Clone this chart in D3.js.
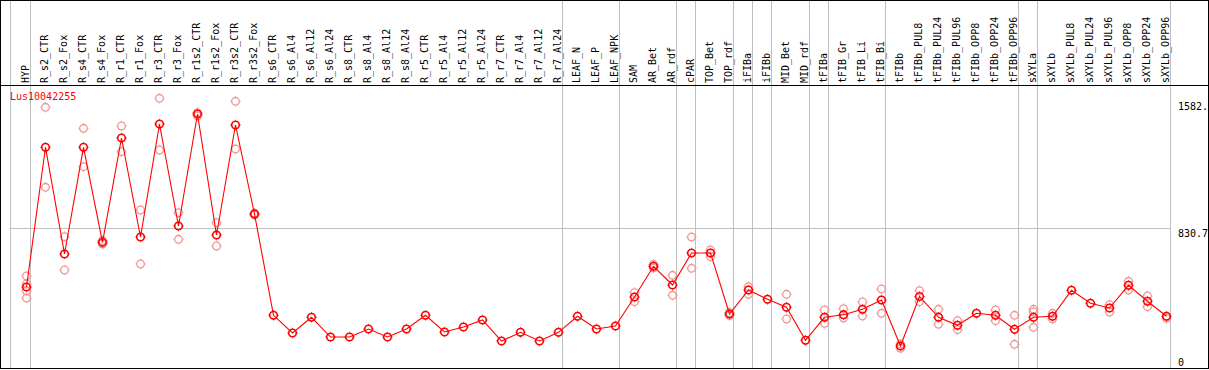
<!DOCTYPE html>
<html>
<head>
<meta charset="utf-8">
<script src="https://cdn.jsdelivr.net/npm/d3@7"></script>
<style>
  html, body { margin: 0; padding: 0; background: #ffffff; }
  svg { display: block; }
  text { font-family: "DejaVu Sans Mono", "Liberation Mono", monospace; font-size: 10px; }
</style>
</head>
<body>
<svg id="chart" width="1209" height="370"></svg>
<script>
const categories = [
  "HYP", "R_s2_CTR", "R_s2_Fox", "R_s4_CTR", "R_s4_Fox", "R_r1_CTR", "R_r1_Fox",
  "R_r3_CTR", "R_r3_Fox", "R_r1s2_CTR", "R_r1s2_Fox", "R_r3s2_CTR", "R_r3s2_Fox",
  "R_s6_CTR", "R_s6_Al4", "R_s6_Al12", "R_s6_Al24", "R_s8_CTR", "R_s8_Al4", "R_s8_Al12",
  "R_s8_Al24", "R_r5_CTR", "R_r5_Al4", "R_r5_Al12", "R_r5_Al24", "R_r7_CTR", "R_r7_Al4",
  "R_r7_Al12", "R_r7_Al24", "LEAF_N", "LEAF_P", "LEAF_NPK", "SAM", "AR_Bet", "AR_rdf",
  "cPAR", "TOP_Bet", "TOP_rdf", "iFIBa", "iFIBb", "MID_Bet", "MID_rdf", "tFIBa",
  "tFIB_Gr", "tFIB_Li", "tFIB_Bi", "tFIBb", "tFIBb_PUL8", "tFIBb_PUL24", "tFIBb_PUL96",
  "tFIBb_OPP8", "tFIBb_OPP24", "tFIBb_OPP96", "sXYLa", "sXYLb", "sXYLb_PUL8",
  "sXYLb_PUL24", "sXYLb_PUL96", "sXYLb_OPP8", "sXYLb_OPP24", "sXYLb_OPP96"
];

const meanValues = [
  480.6, 1309.6, 676.4, 1309.6, 745.9, 1364.7, 777.3,
  1447.8, 842.6, 1507.1, 789.2, 1441.9, 913.8,
  312.7, 207.7, 300.8, 183.9, 183.9, 231.4, 183.9,
  231.4, 312.7, 213.6, 243.3, 284.8, 160.2, 211.8,
  160.2, 211.8, 306.8, 231.4, 249.2, 421.3, 603.4, 492.5,
  682.4, 682.4, 320.4, 462.8, 407.6, 360.2, 164.4, 300.8,
  316.3, 348.3, 403.5, 130.5, 424.3, 300.8, 253.4,
  324.6, 312.7, 229.6, 300.8, 306.8, 461.0,
  383.9, 356.0, 490.7, 395.8, 306.8
];

const replicateValues = [
  [545.9, 498.4, 456.9, 415.4], [1546.9, 1072.2], [779.1, 581.5], [1422.3, 1194.4], [756.5, 735.8],
  [1435.9, 1283.4], [937.5, 617.1], [1600.3, 1293.5], [921.5, 763.7], [1514.8, 1495.3],
  [862.2, 723.9], [1582.5, 1299.5], [919.7, 907.8],
  [], [], [], [], [], [], [], [], [], [], [], [], [], [], [], [],
  [], [], [],
  [446.8, 393.4], [614.1, 593.4], [550.0, 431.4], [777.3, 591.6], [700.2, 660.4],
  [329.3, 311.5], [482.4, 437.3], [], [437.3, 290.7], [], [344.1, 265.2],
  [351.9, 296.7], [391.6, 308.5], [468.8, 324.6], [142.4, 116.9], [458.7, 393.4],
  [348.3, 259.3], [280.7, 227.3], [], [344.1, 280.7], [312.7, 140.6],
  [348.3, 332.3, 241.5], [324.6, 290.7], [], [], [375.6, 332.3],
  [514.4, 462.8], [427.2, 363.7], [294.9]
];

const groupEnds = ["HYP", "R_r7_Al24", "LEAF_NPK", "AR_rdf", "cPAR", "TOP_rdf", "iFIBa",
  "iFIBb", "MID_rdf", "tFIBa", "tFIB_Bi", "tFIBb_OPP96", "sXYLa", "sXYLb_OPP96"];

const yTickValues = [1582.5, 830.7, 0];
const yTickLabels = ["1582.", "830.7", "0"];
const geneName = "Lus10042255";

const W = 1209, H = 370;
const svg = d3.select("#chart");

const x = d3.scalePoint().domain(categories).range([26.5, 1166.5]).padding(0);
const y = d3.scaleLinear().domain([0, 1661.4]).range([368, 88]);

const grey = "#c0c0c0";
const meanColor = "#ff0000";
const repColor = "#f09494";

// grid lines
const gridG = svg.append("g").attr("shape-rendering", "crispEdges");
gridG.append("line")
  .attr("x1", x(categories[0]) - 16).attr("x2", x(categories[0]) - 16)
  .attr("y1", 0).attr("y2", 368)
  .attr("stroke", grey).attr("stroke-width", 1);
gridG.selectAll("line.sep").data(groupEnds).enter().append("line")
  .attr("class", "sep")
  .attr("x1", d => x(d) + 4).attr("x2", d => x(d) + 4)
  .attr("y1", 0).attr("y2", 368)
  .attr("stroke", grey).attr("stroke-width", 1);
const midY = Math.round(y(yTickValues[1])) + 0.5;
gridG.append("line")
  .attr("x1", x(categories[0]) - 16).attr("x2", x(categories[categories.length - 1]) + 4)
  .attr("y1", midY).attr("y2", midY)
  .attr("stroke", grey).attr("stroke-width", 1);

// borders
const borderG = svg.append("g").attr("stroke", "#000").attr("stroke-width", 1)
  .attr("shape-rendering", "crispEdges");
borderG.append("line").attr("x1", 0).attr("x2", W).attr("y1", 0.5).attr("y2", 0.5);
borderG.append("line").attr("x1", 0.5).attr("x2", 0.5).attr("y1", 0).attr("y2", 369);
borderG.append("line").attr("x1", 1208.5).attr("x2", 1208.5).attr("y1", 0).attr("y2", 369);
borderG.append("line").attr("x1", 0).attr("x2", W).attr("y1", 368.5).attr("y2", 368.5);
borderG.append("line").attr("x1", 0).attr("x2", W).attr("y1", 85.5).attr("y2", 85.5);

// category labels (rotated)
svg.append("g").selectAll("text").data(categories).enter().append("text")
  .attr("transform", d => `translate(${x(d) + 2.5},83) rotate(-90)`)
  .attr("text-anchor", "start")
  .attr("fill", "#000")
  .text(d => d);

// right axis labels
svg.append("g").selectAll("text").data(yTickValues).enter().append("text")
  .attr("x", 1178)
  .attr("y", d => Math.min(y(d) + 5, 362))
  .attr("dy", "0.35em")
  .attr("fill", "#000")
  .text((d, i) => yTickLabels[i]);

// gene name
svg.append("text").attr("x", 10).attr("y", 100).attr("fill", meanColor).text(geneName);

// marker helper
function marker(g, cx, cy, color, sw) {
  const m = g.append("g").attr("transform", `translate(${cx},${cy})`)
    .attr("stroke", color).attr("fill", "none");
  m.append("circle").attr("r", 3.8).attr("stroke-width", sw);
  [[0, -1], [0, 1], [-1, 0], [1, 0]].forEach(([dx, dy]) => {
    m.append("line")
      .attr("x1", dx * 4.4).attr("y1", dy * 4.4)
      .attr("x2", dx * 5.2).attr("y2", dy * 5.2)
      .attr("stroke-width", 0.9);
  });
}

// replicates
const repG = svg.append("g");
categories.forEach((c, i) => {
  replicateValues[i].forEach(v => marker(repG, x(c), y(v), repColor, 1.3));
});

// mean line
const line = d3.line().x((d, i) => x(categories[i])).y(d => y(d));
svg.append("path").datum(meanValues)
  .attr("d", line)
  .attr("fill", "none")
  .attr("stroke", meanColor)
  .attr("stroke-width", 1.1);

// mean markers
const meanG = svg.append("g");
categories.forEach((c, i) => marker(meanG, x(c), y(meanValues[i]), meanColor, 1.6));
</script>
</body>
</html>
